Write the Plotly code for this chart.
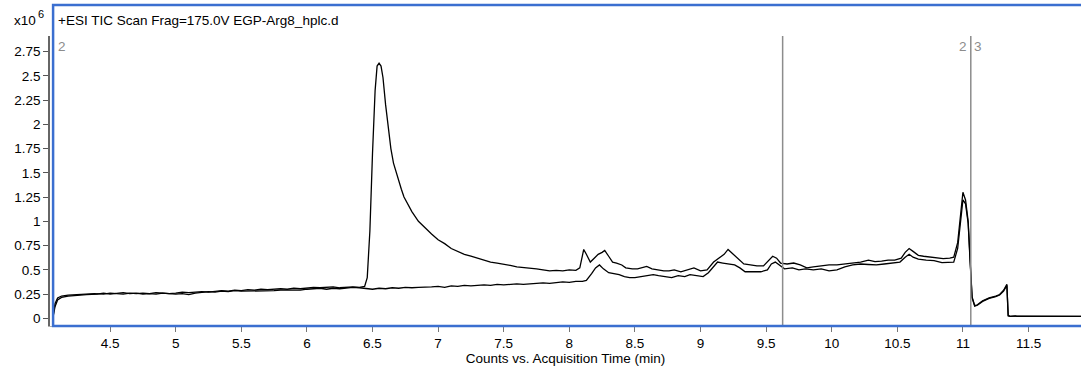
import plotly.graph_objects as go

# Acquisition time (min) and TIC counts (x10^6) for the two traces
time_a = [4.065, 4.08, 4.10, 4.13, 4.18, 4.25, 4.32, 4.38, 4.45, 4.50, 4.55, 4.60, 4.65, 4.70, 4.75, 4.80,
          4.85, 4.90, 4.95, 5.00, 5.05, 5.10, 5.15, 5.20, 5.25, 5.30, 5.35, 5.40, 5.45, 5.50, 5.55, 5.60,
          5.65, 5.70, 5.75, 5.80, 5.85, 5.90, 5.95, 6.00, 6.05, 6.10, 6.15, 6.20, 6.25, 6.30, 6.35, 6.40,
          6.44, 6.46, 6.48, 6.50, 6.52, 6.535, 6.55, 6.565, 6.58, 6.60, 6.62, 6.64, 6.66, 6.68, 6.70, 6.72,
          6.74, 6.77, 6.80, 6.85, 6.90, 6.95, 7.00, 7.05, 7.10, 7.15, 7.20, 7.25, 7.30, 7.35, 7.40, 7.45,
          7.50, 7.55, 7.60, 7.65, 7.70, 7.75, 7.80, 7.85, 7.90, 7.95, 8.00, 8.05, 8.08, 8.11, 8.13, 8.16,
          8.19, 8.22, 8.25, 8.27, 8.30, 8.33, 8.36, 8.40, 8.43, 8.48, 8.52, 8.56, 8.59, 8.63, 8.68, 8.72,
          8.76, 8.80, 8.85, 8.90, 8.95, 9.00, 9.05, 9.10, 9.14, 9.18, 9.21, 9.25, 9.29, 9.33, 9.38, 9.43,
          9.48, 9.52, 9.55, 9.58, 9.61, 9.66, 9.71, 9.76, 9.81, 9.86, 9.92, 9.98, 10.04, 10.10, 10.16, 10.22,
          10.28, 10.33, 10.38, 10.43, 10.48, 10.53, 10.56, 10.59, 10.62, 10.66, 10.70, 10.75, 10.80, 10.85,
          10.90, 10.93, 10.96, 10.98, 11.00, 11.02, 11.04, 11.055, 11.07, 11.09, 11.11, 11.15, 11.20, 11.25,
          11.28, 11.31, 11.335, 11.345, 11.36, 11.40, 11.41, 11.60, 11.90]
counts_a = [0.02, 0.15, 0.21, 0.23, 0.24, 0.245, 0.25, 0.255, 0.25, 0.26, 0.255, 0.25, 0.26, 0.255, 0.26, 0.255,
            0.265, 0.26, 0.255, 0.26, 0.27, 0.265, 0.27, 0.275, 0.27, 0.28, 0.285, 0.28, 0.29, 0.285, 0.295, 0.29,
            0.30, 0.295, 0.30, 0.305, 0.30, 0.31, 0.305, 0.31, 0.32, 0.315, 0.32, 0.325, 0.315, 0.32, 0.325, 0.32,
            0.33, 0.42, 0.90, 1.70, 2.35, 2.60, 2.63, 2.60, 2.48, 2.20, 1.95, 1.75, 1.60, 1.50, 1.42, 1.33,
            1.25, 1.17, 1.10, 1.00, 0.93, 0.87, 0.81, 0.77, 0.72, 0.69, 0.66, 0.64, 0.62, 0.60, 0.58, 0.57,
            0.56, 0.545, 0.53, 0.525, 0.515, 0.51, 0.50, 0.49, 0.495, 0.49, 0.50, 0.495, 0.52, 0.71, 0.66, 0.58,
            0.62, 0.66, 0.68, 0.70, 0.64, 0.58, 0.57, 0.55, 0.52, 0.51, 0.51, 0.52, 0.535, 0.51, 0.50, 0.49,
            0.49, 0.50, 0.48, 0.50, 0.52, 0.49, 0.50, 0.58, 0.62, 0.66, 0.71, 0.66, 0.60, 0.56, 0.55, 0.54,
            0.54, 0.60, 0.64, 0.62, 0.57, 0.56, 0.57, 0.55, 0.52, 0.53, 0.54, 0.55, 0.55, 0.56, 0.57, 0.58,
            0.60, 0.585, 0.59, 0.60, 0.60, 0.62, 0.68, 0.72, 0.69, 0.65, 0.64, 0.63, 0.62, 0.615,
            0.62, 0.63, 0.78, 1.05, 1.30, 1.22, 1.00, 0.60, 0.22, 0.13, 0.14, 0.18, 0.21, 0.23,
            0.245, 0.29, 0.35, 0.03, 0.02, 0.025, 0.02, 0.02, 0.02]

time_b = [4.065, 4.08, 4.10, 4.13, 4.18, 4.25, 4.32, 4.40, 4.45, 4.50, 4.55, 4.60, 4.65, 4.70, 4.75, 4.80,
          4.85, 4.90, 4.95, 5.00, 5.05, 5.10, 5.15, 5.20, 5.25, 5.30, 5.35, 5.40, 5.45, 5.50, 5.55, 5.60,
          5.65, 5.70, 5.75, 5.80, 5.85, 5.90, 5.95, 6.00, 6.05, 6.10, 6.15, 6.20, 6.25, 6.30, 6.35, 6.40,
          6.45, 6.50, 6.55, 6.60, 6.65, 6.70, 6.75, 6.80, 6.85, 6.90, 6.95, 7.00, 7.05, 7.10, 7.15, 7.20,
          7.25, 7.30, 7.35, 7.40, 7.45, 7.50, 7.55, 7.60, 7.65, 7.70, 7.75, 7.80, 7.85, 7.90, 7.95, 8.00,
          8.05, 8.10, 8.13, 8.17, 8.20, 8.23, 8.26, 8.30, 8.34, 8.38, 8.42, 8.46, 8.50, 8.55, 8.60, 8.64,
          8.68, 8.73, 8.78, 8.83, 8.88, 8.92, 8.97, 9.02, 9.06, 9.10, 9.13, 9.17, 9.21, 9.26, 9.30, 9.34,
          9.40, 9.46, 9.51, 9.54, 9.57, 9.60, 9.64, 9.70, 9.75, 9.80, 9.86, 9.92, 9.98, 10.04, 10.10, 10.16,
          10.22, 10.28, 10.34, 10.40, 10.46, 10.52, 10.56, 10.59, 10.62, 10.66, 10.72, 10.78, 10.84, 10.90,
          10.93, 10.96, 10.98, 11.00, 11.02, 11.04, 11.055, 11.07, 11.09, 11.11, 11.15, 11.20, 11.25, 11.28,
          11.31, 11.335, 11.345, 11.36, 11.40, 11.60, 11.90]
counts_b = [0.01, 0.12, 0.19, 0.215, 0.23, 0.24, 0.245, 0.25, 0.26, 0.25, 0.26, 0.265, 0.255, 0.26, 0.25, 0.255,
            0.25, 0.26, 0.255, 0.25, 0.255, 0.245, 0.26, 0.265, 0.275, 0.27, 0.28, 0.275, 0.285, 0.28, 0.28, 0.28,
            0.285, 0.28, 0.285, 0.29, 0.29, 0.295, 0.29, 0.30, 0.305, 0.31, 0.30, 0.31, 0.305, 0.31, 0.32, 0.315,
            0.31, 0.30, 0.31, 0.305, 0.315, 0.31, 0.32, 0.315, 0.32, 0.32, 0.325, 0.33, 0.32, 0.335, 0.33, 0.34,
            0.335, 0.34, 0.345, 0.34, 0.35, 0.345, 0.35, 0.355, 0.35, 0.355, 0.36, 0.365, 0.36, 0.37, 0.375, 0.37,
            0.38, 0.38, 0.39, 0.46, 0.52, 0.55, 0.51, 0.47, 0.46, 0.45, 0.43, 0.42, 0.42, 0.43, 0.44, 0.45,
            0.44, 0.43, 0.42, 0.44, 0.43, 0.45, 0.44, 0.43, 0.47, 0.54, 0.58, 0.57, 0.56, 0.55, 0.52, 0.48,
            0.48, 0.48, 0.50, 0.56, 0.58, 0.55, 0.51, 0.52, 0.50, 0.51, 0.50, 0.51, 0.49, 0.50, 0.53, 0.55,
            0.56, 0.555, 0.55, 0.56, 0.57, 0.58, 0.63, 0.66, 0.63, 0.61, 0.60, 0.595, 0.575, 0.575,
            0.58, 0.72, 0.98, 1.22, 1.18, 0.98, 0.58, 0.21, 0.125, 0.135, 0.175, 0.205, 0.225, 0.24,
            0.28, 0.34, 0.025, 0.02, 0.022, 0.02, 0.02]

x_tick_vals = [4.5, 5, 5.5, 6, 6.5, 7, 7.5, 8, 8.5, 9, 9.5, 10, 10.5, 11, 11.5]
x_tick_text = ["4.5", "5", "5.5", "6", "6.5", "7", "7.5", "8", "8.5", "9", "9.5", "10", "10.5", "11", "11.5"]
y_tick_vals = [0, 0.25, 0.5, 0.75, 1, 1.25, 1.5, 1.75, 2, 2.25, 2.5, 2.75]
y_tick_text = ["0", "0.25", "0.5", "0.75", "1", "1.25", "1.5", "1.75", "2", "2.25", "2.5", "2.75"]

marker_times = [9.626, 11.06]
title_text = "+ESI TIC Scan Frag=175.0V EGP-Arg8_hplc.d"
x_title = "Counts vs. Acquisition Time (min)"

FONT = "Liberation Sans, Arial, sans-serif"
FS = 13.5

fig = go.Figure()
fig.add_trace(go.Scatter(x=time_b, y=counts_b, mode="lines",
                         line=dict(color="black", width=1.3), showlegend=False, hoverinfo="skip"))
fig.add_trace(go.Scatter(x=time_a, y=counts_a, mode="lines",
                         line=dict(color="black", width=1.3), showlegend=False, hoverinfo="skip"))

for t in marker_times:
    fig.add_shape(type="line", xref="x", yref="paper", x0=t, x1=t, y0=0, y1=1,
                  line=dict(color="#8c8c8c", width=1.5))

# blue frame
fig.add_shape(type="rect", xref="paper", yref="paper", x0=0.003, x1=1.002, y0=0.0, y1=1.107,
              line=dict(color="#3b6fd0", width=2.5), fillcolor="rgba(0,0,0,0)", layer="above")

fig.add_annotation(xref="paper", yref="paper", x=0.006, y=1.055, xanchor="left", yanchor="middle",
                   text=title_text, showarrow=False, font=dict(family=FONT, size=FS, color="black"))
fig.add_annotation(xref="paper", yref="paper", x=-0.012, y=1.052, xanchor="right", yanchor="middle",
                   text="x10", showarrow=False, font=dict(family=FONT, size=FS, color="black"))
fig.add_annotation(xref="paper", yref="paper", x=-0.0035, y=1.075, xanchor="right", yanchor="middle",
                   text="6", showarrow=False, font=dict(family=FONT, size=11, color="black"))
fig.add_annotation(xref="paper", yref="paper", x=0.006, y=0.998, xanchor="left", yanchor="top",
                   text="2", showarrow=False, font=dict(family=FONT, size=FS, color="#8c8c8c"))
fig.add_annotation(xref="x", yref="paper", x=marker_times[1], y=0.998, xanchor="right", yanchor="top",
                   text="2", showarrow=False, xshift=-2, font=dict(family=FONT, size=FS, color="#8c8c8c"))
fig.add_annotation(xref="x", yref="paper", x=marker_times[1], y=0.998, xanchor="left", yanchor="top",
                   text="3", showarrow=False, xshift=1, font=dict(family=FONT, size=FS, color="#8c8c8c"))

fig.update_layout(
    width=1081, height=370,
    margin=dict(l=50, r=0, t=36, b=44),
    paper_bgcolor="white", plot_bgcolor="white",
    font=dict(family=FONT, size=FS, color="black"),
    xaxis=dict(range=[4.042, 11.90], tickvals=x_tick_vals, ticktext=x_tick_text,
               ticks="outside", ticklen=5, tickcolor="#777777", tickwidth=1,
               showgrid=False, zeroline=False, showline=True, linecolor="#b0b0b0", linewidth=1,
               title=dict(text=x_title, font=dict(family=FONT, size=FS), standoff=3),
               tickfont=dict(family=FONT, size=FS)),
    yaxis=dict(range=[-0.079, 2.91], tickvals=y_tick_vals, ticktext=y_tick_text,
               ticks="outside", ticklen=5, tickcolor="#555555", tickwidth=1,
               showgrid=False, zeroline=False, showline=True, linecolor="#666666", linewidth=1.5,
               tickfont=dict(family=FONT, size=FS)),
)

fig.write_html("out.html", config={"displayModeBar": False},
               post_script="document.body.style.margin='0px';document.body.style.overflow='hidden';")
